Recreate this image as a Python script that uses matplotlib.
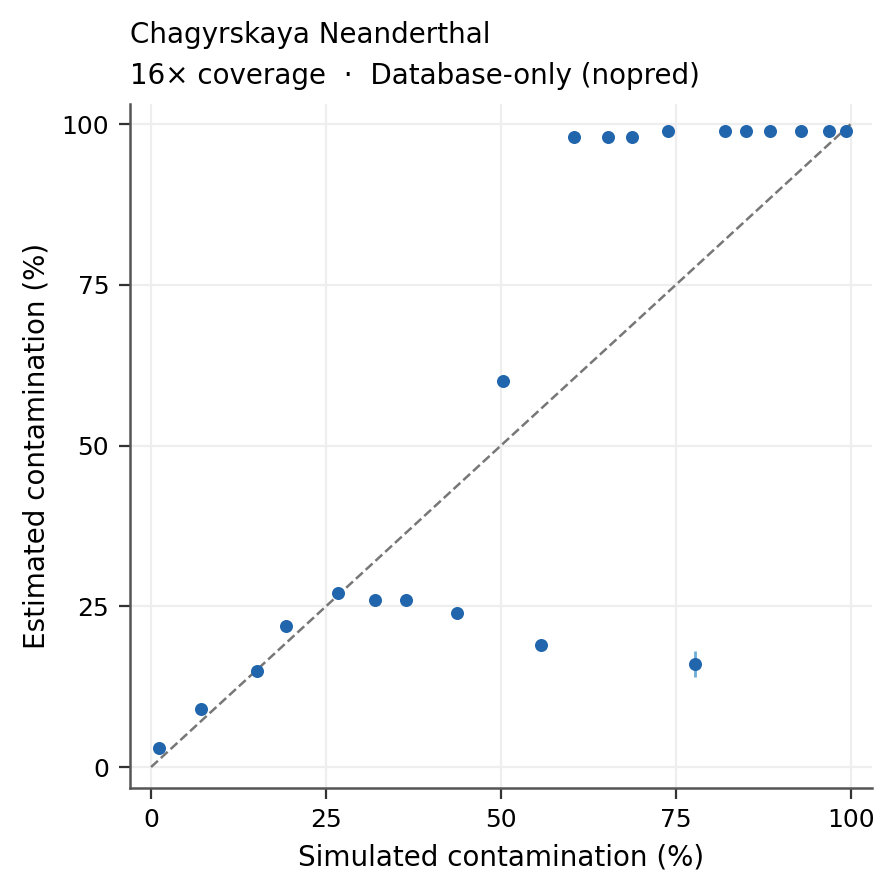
import matplotlib
matplotlib.use('Agg')
import matplotlib.pyplot as plt

# --- Data ---
simulated = [1.1, 7.1, 15.1, 19.3, 26.7, 32.0, 36.4, 43.7, 50.3, 55.7,
             60.4, 65.3, 68.7, 73.9, 77.7, 82.0, 85.0, 88.4, 92.9, 96.9, 99.3]
estimated = [3, 9, 15, 22, 27, 26, 26, 24, 60, 19,
             98, 98, 98, 99, 16, 99, 99, 99, 99, 99, 99]
err_low   = [0, 0, 0, 0, 0, 0, 0, 0, 0, 0,
             0, 0, 0, 0, 2, 0, 0, 0, 0, 0, 0]
err_high  = [0, 0, 0, 0, 0, 0, 0, 0, 0, 0,
             0, 0, 0, 0, 2, 0, 0, 0, 0, 0, 0]
ticks = [0, 25, 50, 75, 100]

fig, ax = plt.subplots(figsize=(4.47, 4.465), dpi=200)

ax.plot([0, 100], [0, 100], ls='--', c='#777777', lw=0.9, zorder=1)
ax.errorbar(simulated, estimated, yerr=[err_low, err_high], fmt='none',
            ecolor='#6baed6', elinewidth=1.0, zorder=2)
ax.scatter(simulated, estimated, s=22, c='#2166ac', zorder=3, linewidths=0)

ax.set_xlim(-3, 103)
ax.set_ylim(-3.2, 103.2)
ax.set_xticks(ticks)
ax.set_yticks(ticks)
ax.tick_params(labelsize=9, width=0.8, length=4, color='#333333')
ax.grid(True, color='#eeeeee', lw=0.8)
ax.set_axisbelow(True)
for s in ['top', 'right']:
    ax.spines[s].set_visible(False)
for s in ['left', 'bottom']:
    ax.spines[s].set_color('#555555')
    ax.spines[s].set_linewidth(0.9)

ax.set_xlabel("Simulated contamination (%)", fontsize=10)
ax.set_ylabel("Estimated contamination (%)", fontsize=10)
ax.set_title("Chagyrskaya Neanderthal\n16× coverage  ·  Database-only (nopred)",
             loc='left', fontsize=10, linespacing=1.6, pad=7)

plt.subplots_adjust(left=0.1455, right=0.975, bottom=0.118, top=0.884)
plt.savefig("out.png", dpi=200)
